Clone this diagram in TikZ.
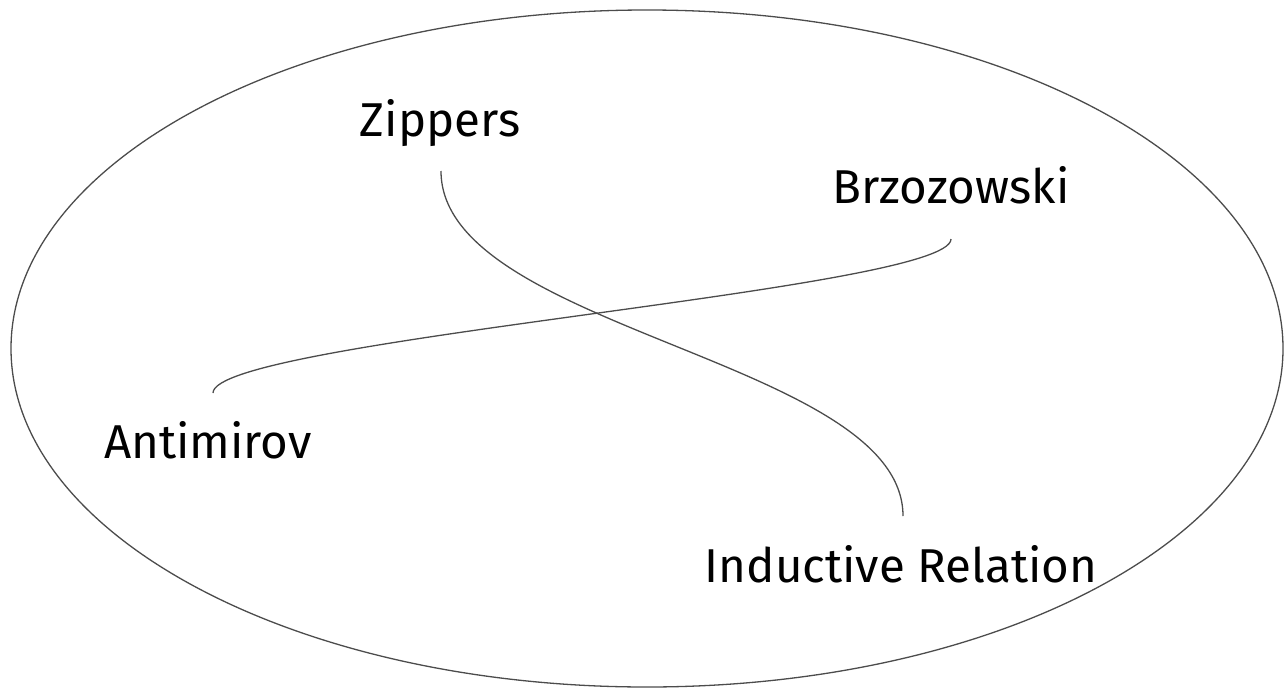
\documentclass[tikz,border=0pt]{standalone}
\usepackage{fontspec}
\setmainfont{Fira Sans}
\begin{document}
\begin{tikzpicture}[x=1pt,y=-1pt,
  lbl/.style={anchor=base,inner sep=0pt,font=\fontsize{47.5}{57}\selectfont,text=black},
  link/.style={draw=black!70,line width=1.3pt}]
\useasboundingbox (0,0) rectangle (1284,688);
\draw[link] (647,348.5) ellipse [x radius=636pt, y radius=338.5pt];
\node[lbl] (zip) at (440,136) {Zippers};
\node[lbl] (brz) at (951,203) {Brzozowski};
\node[lbl] (ant) at (208,458) {Antimirov};
\node[lbl] (ind) at (901,582) {Inductive Relation};
\coordinate (zipb) at (441,171);
\coordinate (indt) at (903,516);
\coordinate (brzb) at (951,239);
\coordinate (antt) at (213,393);
\draw[link] (zipb) .. controls (441,330) and (903,360) .. (indt);
\draw[link] (brzb) .. controls (951,290) and (213,340) .. (antt);
\end{tikzpicture}
\end{document}
